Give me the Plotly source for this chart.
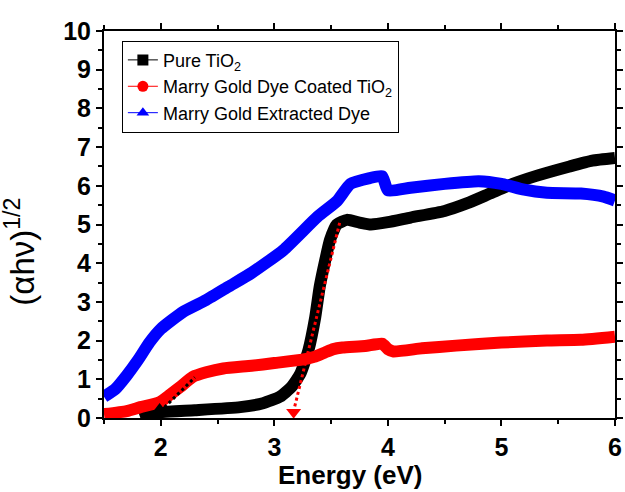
import plotly.graph_objects as go

# Pure TiO2
e_pure = [1.82, 1.9, 2.0, 2.3, 2.7, 2.9, 3.05, 3.15, 3.23, 3.3, 3.36, 3.4, 3.45, 3.49, 3.55, 3.64, 3.75, 3.85, 4.0, 4.2, 4.5, 4.7, 4.9, 5.1, 5.3, 5.6, 5.8, 6.0]
y_pure = [0.0, 0.08, 0.15, 0.2, 0.28, 0.38, 0.55, 0.8, 1.15, 1.75, 2.6, 3.4, 4.1, 4.6, 5.0, 5.12, 5.05, 5.0, 5.06, 5.18, 5.35, 5.55, 5.8, 6.05, 6.25, 6.5, 6.65, 6.72]

# Marry Gold Dye Coated TiO2
e_coat = [1.5, 1.7, 1.82, 1.99, 2.08, 2.17, 2.28, 2.4, 2.55, 2.8, 3.0, 3.23, 3.35, 3.45, 3.52, 3.6, 3.8, 3.95, 4.0, 4.05, 4.3, 4.6, 5.0, 5.4, 5.7, 6.0]
y_coat = [0.1, 0.18, 0.28, 0.41, 0.6, 0.8, 1.06, 1.18, 1.28, 1.35, 1.42, 1.5, 1.58, 1.7, 1.78, 1.82, 1.86, 1.92, 1.78, 1.72, 1.8, 1.87, 1.95, 2.0, 2.02, 2.1]

# Marry Gold Extracted Dye
e_dye = [1.5, 1.6, 1.7, 1.8, 1.9, 2.0, 2.2, 2.4, 2.6, 2.8, 3.08, 3.38, 3.55, 3.67, 3.84, 3.95, 4.0, 4.2, 4.5, 4.8, 5.0, 5.2, 5.4, 5.7, 5.9, 6.0]
y_dye = [0.55, 0.75, 1.1, 1.5, 1.95, 2.3, 2.75, 3.05, 3.4, 3.75, 4.34, 5.2, 5.6, 6.05, 6.2, 6.25, 5.88, 5.95, 6.05, 6.12, 6.05, 5.9, 5.82, 5.8, 5.72, 5.62]

# tangent (dotted) lines
tan_coat_x = [1.92, 2.3]
tan_coat_y = [-0.05, 1.05]
tan_pure_x = [3.18, 3.58]
tan_pure_y = [0.3, 5.1]

names = ["Pure TiO<sub>2</sub>", "Marry Gold Dye Coated TiO<sub>2</sub>", "Marry Gold Extracted Dye"]
colors = ["#000000", "#ff0000", "#0000ff"]
symbols = ["square", "circle", "triangle-up"]

fig = go.Figure()
for ex, ey, c in [(e_pure, y_pure, colors[0]), (e_coat, y_coat, colors[1]), (e_dye, y_dye, colors[2])]:
    fig.add_trace(go.Scatter(x=ex, y=ey, mode="lines", line=dict(color=c, width=12, shape="spline", smoothing=0.5),
                             showlegend=False, hoverinfo="skip", cliponaxis=True))

fig.add_trace(go.Scatter(x=tan_coat_x, y=tan_coat_y, mode="lines", line=dict(color="black", width=3, dash="dot"),
                         showlegend=False))
fig.add_trace(go.Scatter(x=tan_pure_x, y=tan_pure_y, mode="lines", line=dict(color="red", width=3, dash="dot"),
                         showlegend=False))
fig.add_trace(go.Scatter(x=[1.99], y=[0.22], mode="markers", marker=dict(symbol="triangle-up", size=13, color="black"),
                         showlegend=False))
fig.add_trace(go.Scatter(x=[3.17], y=[0.15], mode="markers", marker=dict(symbol="triangle-down", size=13, color="red"),
                         showlegend=False))

for n, c, s in zip(names, colors, symbols):
    fig.add_trace(go.Scatter(x=[None], y=[None], mode="lines+markers", name=n,
                             line=dict(color=c, width=1), marker=dict(symbol=s, size=11, color=c)))

axis_common = dict(showline=True, linecolor="black", linewidth=2, ticks="outside", ticklen=6, tickwidth=2,
                   tickcolor="black", mirror="allticks", showgrid=False, zeroline=False, automargin=False,
                   tickfont=dict(family="Liberation Sans", size=25, color="black", weight="bold"),
                   minor=dict(ticks="outside", ticklen=4, tickwidth=1.5, tickcolor="black"))

fig.update_layout(
    width=625, height=492,
    margin=dict(l=104, r=10, t=31, b=74),
    plot_bgcolor="white", paper_bgcolor="white",
    xaxis=dict(range=[1.5, 6.0], tickvals=[2, 3, 4, 5, 6], minor_dtick=0.5, **axis_common),
    yaxis=dict(range=[0, 10], dtick=1, minor_dtick=0.5, **axis_common),
    legend=dict(x=0.035, y=0.975, xanchor="left", yanchor="top", bgcolor="white", bordercolor="black", borderwidth=1,
                font=dict(family="Liberation Sans", size=18, color="black"), tracegroupgap=0, itemwidth=30),
    showlegend=True,
    annotations=[
        dict(text="<b>Energy (eV)</b>", xref="paper", yref="paper", x=0.5 + (350 - 359.5) / 511, y=-73.0 / 387,
             xanchor="center", yanchor="bottom", showarrow=False, borderpad=0,
             font=dict(family="Liberation Sans", size=26, color="black")),
        dict(text="(αhν)<sup>1/2</sup>", xref="paper", yref="paper", x=-0.165, y=(418 - 252) / 387,
             xanchor="center", yanchor="middle", textangle=-90, showarrow=False,
             font=dict(family="Liberation Sans", size=33, color="black")),
    ],
)

fig.write_html("out.html")
